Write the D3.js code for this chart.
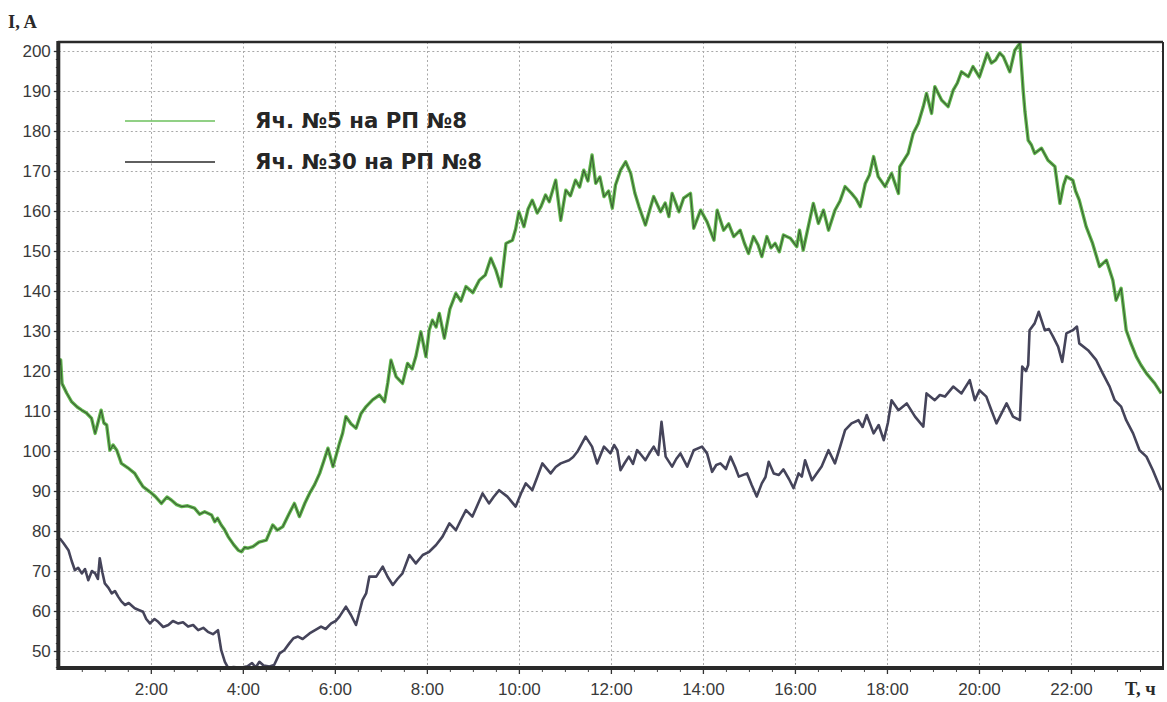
<!DOCTYPE html>
<html>
<head>
<meta charset="utf-8">
<script src="https://cdn.jsdelivr.net/npm/d3@7"></script>
<style>
  html, body { margin: 0; padding: 0; background: #fff; overflow: hidden; }
  svg { display: block; }
</style>
</head>
<body>
<svg id="chart" width="1167" height="702"></svg>
<script>
// Load current through two feeder cells over one day (time in hours, current in A)
const seriesNames = ["Яч. №5 на РП №8", "Яч. №30 на РП №8"];

const cell5Points = [
  [0.02,121.5],[0.04,122.8],[0.07,116.9],[0.17,114.5],[0.28,112.3],[0.40,111.0],[0.50,110.2],[0.60,109.5],[0.71,108.2],[0.79,104.4],
  [0.86,107.5],[0.92,110.2],[0.98,107.0],[1.04,106.5],[1.11,100.2],[1.18,101.5],[1.26,100.2],[1.36,96.9],[1.50,95.8],[1.65,94.4],
  [1.75,92.5],[1.83,91.1],[1.98,89.8],[2.10,88.6],[2.23,86.9],[2.35,88.5],[2.45,87.7],[2.56,86.6],[2.67,86.1],[2.80,86.3],
  [2.95,85.7],[3.06,84.2],[3.17,84.8],[3.32,84.0],[3.39,82.3],[3.45,83.2],[3.53,81.5],[3.60,80.4],[3.68,78.6],[3.80,76.6],
  [3.90,75.2],[3.97,74.8],[4.04,75.9],[4.11,75.7],[4.22,76.1],[4.35,77.2],[4.51,77.7],[4.58,79.6],[4.65,81.5],[4.75,80.2],
  [4.87,81.1],[5.00,84.2],[5.12,86.9],[5.23,83.6],[5.35,87.0],[5.45,89.4],[5.56,91.6],[5.67,94.4],[5.76,97.5],[5.85,100.7],
  [5.96,96.1],[6.10,101.9],[6.17,104.5],[6.24,108.6],[6.35,106.8],[6.46,105.7],[6.57,109.4],[6.68,111.1],[6.82,112.8],[6.97,114.0],
  [7.08,112.3],[7.15,117.0],[7.22,122.7],[7.33,118.6],[7.47,116.9],[7.58,121.9],[7.68,120.5],[7.76,123.6],[7.87,129.8],[7.98,123.6],
  [8.05,130.2],[8.12,132.7],[8.20,131.0],[8.27,134.4],[8.38,128.2],[8.50,135.5],[8.63,139.4],[8.74,137.5],[8.85,141.1],[9.00,139.6],
  [9.14,142.7],[9.27,144.0],[9.39,148.2],[9.50,145.2],[9.61,141.1],[9.72,151.9],[9.86,152.7],[9.93,155.5],[10.00,159.8],[10.11,156.1],
  [10.20,160.5],[10.29,162.7],[10.40,159.5],[10.48,161.1],[10.58,164.0],[10.66,162.3],[10.80,167.7],[10.91,157.7],[11.02,165.2],[11.12,163.8],
  [11.23,167.7],[11.32,166.0],[11.41,170.2],[11.50,167.5],[11.59,174.0],[11.67,166.9],[11.76,168.5],[11.85,163.6],[11.95,165.0],[12.03,160.7],
  [12.10,166.5],[12.21,170.2],[12.32,172.3],[12.43,169.4],[12.52,164.5],[12.61,161.1],[12.75,156.5],[12.85,160.5],[12.93,163.6],[13.08,159.8],
  [13.18,162.0],[13.26,158.6],[13.33,164.4],[13.48,159.8],[13.58,163.2],[13.73,164.4],[13.80,155.7],[13.95,160.2],[14.09,157.3],[14.24,152.7],
  [14.31,160.2],[14.45,155.2],[14.56,156.8],[14.67,153.6],[14.81,155.2],[14.90,152.0],[14.99,149.4],[15.10,153.6],[15.20,151.5],[15.28,148.6],
  [15.39,153.6],[15.48,150.8],[15.57,151.9],[15.66,149.8],[15.75,154.0],[15.90,153.2],[16.04,151.1],[16.10,155.2],[16.18,150.2],[16.29,156.1],
  [16.40,161.9],[16.51,156.9],[16.62,160.2],[16.73,155.2],[16.87,160.2],[16.98,162.5],[17.09,166.1],[17.23,164.4],[17.33,163.0],[17.42,161.1],
  [17.53,166.9],[17.62,169.0],[17.71,173.6],[17.81,168.6],[17.96,166.1],[18.10,169.4],[18.25,164.4],[18.28,171.1],[18.46,174.4],[18.57,179.4],
  [18.68,181.9],[18.79,186.1],[18.86,189.4],[18.97,184.4],[19.04,191.1],[19.19,187.7],[19.33,186.1],[19.44,190.2],[19.53,192.0],[19.62,194.8],
  [19.77,193.6],[19.87,196.1],[20.01,193.5],[20.18,199.4],[20.27,197.0],[20.36,197.7],[20.45,199.5],[20.53,198.6],[20.67,194.8],[20.78,200.2],
  [20.89,201.9],[20.96,190.2],[21.00,184.8],[21.07,177.7],[21.14,176.5],[21.21,174.4],[21.36,175.7],[21.50,172.7],[21.65,171.1],[21.76,161.9],
  [21.84,166.5],[21.90,168.6],[22.04,167.7],[22.10,165.0],[22.18,162.7],[22.33,156.1],[22.47,151.9],[22.62,146.1],[22.77,147.7],[22.91,142.7],
  [22.98,137.7],[23.09,140.7],[23.20,130.2],[23.30,127.0],[23.42,123.6],[23.52,121.5],[23.64,119.4],[23.82,116.9],[23.96,114.4]
];

const cell30Points = [
  [0.02,78.2],[0.10,77.0],[0.21,75.2],[0.28,72.5],[0.35,70.2],[0.42,70.8],[0.50,69.4],[0.57,70.5],[0.64,67.7],[0.72,70.0],
  [0.79,69.4],[0.85,68.0],[0.89,73.2],[0.95,69.5],[1.00,66.9],[1.08,65.8],[1.15,64.4],[1.22,65.0],[1.29,63.6],[1.36,62.4],
  [1.44,61.5],[1.52,62.0],[1.65,60.7],[1.75,60.2],[1.83,59.8],[1.90,58.0],[1.98,56.9],[2.08,58.0],[2.16,57.3],[2.27,56.0],
  [2.38,56.5],[2.48,57.5],[2.59,56.9],[2.70,57.2],[2.81,56.1],[2.92,56.5],[3.03,55.2],[3.14,55.8],[3.24,54.8],[3.35,54.2],
  [3.46,55.2],[3.53,50.2],[3.61,47.3],[3.68,45.8],[3.80,46.0],[3.95,45.8],[4.10,46.2],[4.20,47.0],[4.28,45.9],[4.36,47.3],
  [4.45,46.4],[4.58,46.1],[4.68,46.5],[4.80,49.4],[4.90,50.2],[5.01,51.9],[5.10,53.2],[5.20,53.6],[5.30,53.0],[5.45,54.4],
  [5.57,55.2],[5.70,56.1],[5.80,55.5],[5.92,56.9],[6.02,57.5],[6.10,58.6],[6.24,61.1],[6.35,59.0],[6.46,56.5],[6.60,62.7],
  [6.68,64.4],[6.75,68.6],[6.90,68.6],[7.04,71.1],[7.15,68.5],[7.26,66.5],[7.36,68.0],[7.47,69.4],[7.62,74.0],[7.76,71.9],
  [7.91,74.0],[8.05,74.8],[8.20,76.5],[8.34,78.6],[8.49,81.9],[8.63,80.2],[8.75,83.0],[8.85,85.2],[8.99,83.6],[9.10,86.5],
  [9.21,89.4],[9.35,86.9],[9.45,88.5],[9.57,90.2],[9.75,88.6],[9.93,86.1],[10.05,89.5],[10.15,91.9],[10.29,90.2],[10.40,93.5],
  [10.51,96.9],[10.69,94.4],[10.80,96.0],[10.91,96.9],[11.09,97.7],[11.18,98.5],[11.27,99.8],[11.45,103.6],[11.59,101.1],[11.70,96.9],
  [11.85,101.1],[11.99,99.4],[12.07,101.5],[12.14,100.2],[12.21,95.2],[12.30,97.0],[12.39,98.6],[12.48,96.8],[12.57,100.2],[12.66,99.0],
  [12.75,97.7],[12.84,99.5],[12.93,101.1],[13.03,99.0],[13.10,107.3],[13.19,98.6],[13.33,96.1],[13.42,98.0],[13.51,99.4],[13.66,96.1],
  [13.80,100.2],[13.98,101.1],[14.09,99.4],[14.20,94.8],[14.29,96.5],[14.38,96.9],[14.50,95.5],[14.60,98.6],[14.70,96.0],[14.78,93.6],
  [14.96,94.4],[15.06,91.5],[15.17,88.6],[15.28,91.9],[15.36,93.5],[15.43,97.3],[15.54,94.4],[15.65,94.0],[15.75,95.4],[15.87,93.0],
  [15.97,90.7],[16.08,94.4],[16.15,93.6],[16.22,97.7],[16.30,95.0],[16.37,92.7],[16.48,94.5],[16.58,96.1],[16.73,100.2],[16.87,96.9],
  [16.98,101.0],[17.09,105.2],[17.23,106.9],[17.38,107.7],[17.47,106.0],[17.56,109.0],[17.71,104.4],[17.82,106.5],[17.93,102.7],[18.02,107.0],
  [18.10,112.7],[18.25,110.2],[18.43,111.9],[18.61,108.6],[18.79,106.1],[18.86,114.4],[19.04,112.7],[19.15,114.0],[19.26,113.6],[19.44,116.1],
  [19.62,114.4],[19.80,117.7],[19.91,112.7],[20.01,115.2],[20.16,113.6],[20.27,110.2],[20.38,106.9],[20.49,109.4],[20.60,111.9],[20.74,108.6],
  [20.89,107.7],[20.94,121.1],[21.02,120.0],[21.07,121.5],[21.10,130.2],[21.21,131.9],[21.30,134.8],[21.43,130.2],[21.52,130.5],[21.61,128.6],
  [21.72,126.1],[21.81,122.3],[21.90,129.4],[22.04,130.2],[22.13,131.1],[22.18,126.9],[22.37,125.2],[22.55,122.7],[22.69,119.4],[22.84,116.1],
  [22.95,112.7],[23.09,111.1],[23.20,107.7],[23.35,104.4],[23.49,100.2],[23.64,98.6],[23.78,95.2],[23.96,90.2]
];

const xTickHours = [2, 4, 6, 8, 10, 12, 14, 16, 18, 20, 22];
const xTickLabels = ["2:00", "4:00", "6:00", "8:00", "10:00", "12:00", "14:00", "16:00", "18:00", "20:00", "22:00"];
const yTickValues = [50, 60, 70, 80, 90, 100, 110, 120, 130, 140, 150, 160, 170, 180, 190, 200];
const axisTitles = { y: "I, A", x: "T, ч" };

const svg = d3.select("#chart");
const plot = { left: 58.8, right: 1163, top: 42, bottom: 668 };

const x = d3.scaleLinear().domain([0, 24]).range([plot.left, plot.right]);
const y = d3.scaleLinear().domain([45.75, 202.25]).range([plot.bottom, plot.top]);

const tickFont = "'Liberation Sans', Arial, sans-serif";

// dotted grid
const grid = svg.append("g").attr("stroke", "#9a9a9a").attr("stroke-width", 1)
  .attr("stroke-dasharray", "2,2.5").attr("opacity", 0.85);
grid.selectAll("line.h").data(yTickValues).join("line").attr("class", "h")
  .attr("x1", plot.left).attr("x2", plot.right)
  .attr("y1", d => Math.round(y(d)) + 0.5).attr("y2", d => Math.round(y(d)) + 0.5);
grid.selectAll("line.v").data(xTickHours).join("line").attr("class", "v")
  .attr("y1", plot.top).attr("y2", plot.bottom)
  .attr("x1", d => Math.round(x(d)) + 0.5).attr("x2", d => Math.round(x(d)) + 0.5);

// clip for traces
svg.append("clipPath").attr("id", "plotClip").append("rect")
  .attr("x", plot.left).attr("y", plot.top)
  .attr("width", plot.right - plot.left).attr("height", plot.bottom - plot.top);

const line = d3.line().x(d => x(d[0])).y(d => y(d[1])).curve(d3.curveLinear);
const traces = svg.append("g").attr("clip-path", "url(#plotClip)")
  .attr("fill", "none").attr("stroke-linejoin", "round");

traces.append("path").datum(cell30Points).attr("d", line)
  .attr("stroke", "#45445a").attr("stroke-width", 2.6);

traces.append("path").datum(cell5Points).attr("d", line)
  .attr("stroke", "#62b84e").attr("stroke-width", 3.4);
traces.append("path").datum(cell5Points).attr("d", line)
  .attr("stroke", "#2c3a2c").attr("stroke-width", 1.1).attr("opacity", 0.7);

// axes
const yAxis = d3.axisLeft(y).tickValues(yTickValues).tickSize(5).tickPadding(3);
const gy = svg.append("g").attr("transform", `translate(${plot.left},0)`).call(yAxis);
gy.select(".domain").remove();
gy.selectAll("text").attr("font-family", tickFont).attr("font-size", 17).attr("fill", "#3a3a3a");
gy.selectAll(".tick line").attr("stroke", "#333").attr("stroke-width", 1.3);

const yMinor = d3.axisLeft(y).tickValues(d3.range(46, 202, 2).filter(v => v % 10 !== 0))
  .tickSize(3).tickFormat("");
const gym = svg.append("g").attr("transform", `translate(${plot.left},0)`).call(yMinor);
gym.select(".domain").remove();
gym.selectAll(".tick line").attr("stroke", "#444").attr("stroke-width", 1);

const xAxis = d3.axisBottom(x).tickValues(xTickHours)
  .tickFormat((d, i) => xTickLabels[i]).tickSize(6).tickPadding(9);
const gx = svg.append("g").attr("transform", `translate(0,${plot.bottom})`).call(xAxis);
gx.select(".domain").remove();
gx.selectAll("text").attr("font-family", tickFont).attr("font-size", 17).attr("fill", "#3a3a3a");
gx.selectAll(".tick line").attr("stroke", "#333").attr("stroke-width", 1.3);

const xMinor = d3.axisBottom(x).tickValues(d3.range(0.5, 24, 0.5).filter(v => v % 2 !== 0))
  .tickSize(4).tickFormat("");
const gxm = svg.append("g").attr("transform", `translate(0,${plot.bottom})`).call(xMinor);
gxm.select(".domain").remove();
gxm.selectAll(".tick line").attr("stroke", "#444").attr("stroke-width", 1);

// frame
const frame = svg.append("g").attr("fill", "none").attr("stroke", "#2a2a2a");
frame.append("line").attr("x1", plot.left - 1).attr("x2", plot.right).attr("y1", plot.top).attr("y2", plot.top).attr("stroke-width", 2.5);
frame.append("line").attr("x1", plot.right).attr("x2", plot.right).attr("y1", plot.top).attr("y2", plot.bottom).attr("stroke-width", 2);
frame.append("line").attr("x1", plot.left - 1).attr("x2", plot.right + 1).attr("y1", plot.bottom).attr("y2", plot.bottom).attr("stroke-width", 4);
frame.append("line").attr("x1", plot.left - 0.5).attr("x2", plot.left - 0.5).attr("y1", plot.top - 1).attr("y2", plot.bottom + 2).attr("stroke-width", 4);

// axis titles
svg.append("text").attr("x", 8).attr("y", 28).text(axisTitles.y)
  .attr("font-family", "'Liberation Serif', 'Times New Roman', serif")
  .attr("font-weight", "bold").attr("font-size", 18.5).attr("fill", "#2a2a2a");
svg.append("text").attr("x", 1125).attr("y", 695).text(axisTitles.x)
  .attr("font-family", "'Liberation Serif', 'Times New Roman', serif")
  .attr("font-weight", "bold").attr("font-size", 18.5).attr("fill", "#2a2a2a");

// legend
const legendColors = ["#6cc05c", "#2a2a2a"];
const legendRows = [121, 162];
const legendWidths = [212, 227];
const legend = svg.append("g");
seriesNames.forEach((name, i) => {
  legend.append("line").attr("x1", 125).attr("x2", 215)
    .attr("y1", legendRows[i]).attr("y2", legendRows[i])
    .attr("stroke", legendColors[i]).attr("stroke-width", 1.6);
  legend.append("text").attr("x", 255).attr("y", legendRows[i] + 7).text(name)
    .attr("font-family", "'DejaVu Sans', 'Noto Sans', sans-serif")
    .attr("font-weight", "bold").attr("font-size", 20.5)
    .attr("textLength", legendWidths[i]).attr("lengthAdjust", "spacingAndGlyphs")
    .attr("fill", "#262626");
});
</script>
</body>
</html>
